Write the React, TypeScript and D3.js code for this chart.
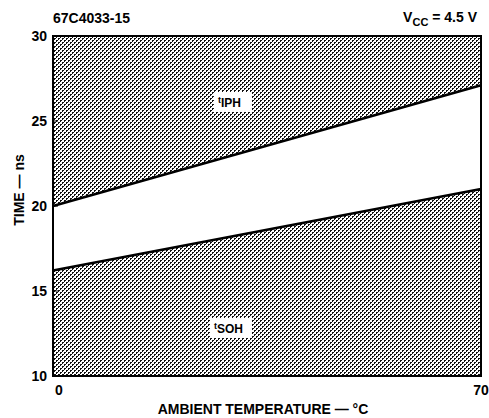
import React from "react";
import * as d3 from "d3";

const temps = [0, 70];
const tIPH = [20, 27.1];
const tSOH = [16.2, 21.0];
const yTicks = [10, 15, 20, 25, 30];
const xTicks = [0, 70];

const W = 489;
const H = 418;
const M = { left: 53, right: 481, top: 36, bottom: 376 };
const FONT = "'Liberation Sans', Arial, Helvetica, sans-serif";

export default function App() {
  const x = d3.scaleLinear().domain([0, 70]).range([M.left, M.right]);
  const y = d3.scaleLinear().domain([10, 30]).range([M.bottom, M.top]);

  const upper = temps.map((t, i) => ({ t, v: tIPH[i] }));
  const lower = temps.map((t, i) => ({ t, v: tSOH[i] }));

  const areaTop = d3
    .area<{ t: number; v: number }>()
    .x((d) => x(d.t))
    .y0(() => y(30))
    .y1((d) => y(d.v));
  const areaBottom = d3
    .area<{ t: number; v: number }>()
    .x((d) => x(d.t))
    .y0(() => y(10))
    .y1((d) => y(d.v));
  const line = d3
    .line<{ t: number; v: number }>()
    .x((d) => x(d.t))
    .y((d) => y(d.v));

  return (
    <svg
      width={W}
      height={H}
      style={{ position: "absolute", left: 0, top: 0, background: "#fff" }}
      fontFamily={FONT}
    >
      <defs>
        <pattern id="hatch" width={4} height={4} patternUnits="userSpaceOnUse">
          <rect width={4} height={4} fill="#fff" />
          <rect x={0} y={0} width={2} height={1} fill="#111" />
          <rect x={0} y={1} width={1} height={1} fill="#111" />
          <rect x={2} y={2} width={2} height={1} fill="#111" />
          <rect x={2} y={3} width={1} height={1} fill="#111" />
        </pattern>
      </defs>

      <path d={areaTop(upper) || ""} fill="url(#hatch)" />
      <path d={areaBottom(lower) || ""} fill="url(#hatch)" />

      <path d={line(upper) || ""} fill="none" stroke="#000" strokeWidth={2.5} />
      <path d={line(lower) || ""} fill="none" stroke="#000" strokeWidth={2.5} />

      <rect
        x={M.left}
        y={M.top}
        width={M.right - M.left}
        height={M.bottom - M.top}
        fill="none"
        stroke="#000"
        strokeWidth={2}
      />

      {yTicks.map((t) => (
        <g key={t}>
          {t !== 10 && t !== 30 && (
            <line x1={M.left} x2={M.left + 5} y1={y(t)} y2={y(t)} stroke="#000" strokeWidth={1} />
          )}
          <text
            x={M.left - 6}
            y={y(t)}
            dy="0.35em"
            textAnchor="end"
            fontSize={14}
            fontWeight="bold"
          >
            {t}
          </text>
        </g>
      ))}

      {xTicks.map((t, i) => (
        <text
          key={t}
          x={x(t) + (i === 0 ? 6 : 0)}
          y={M.bottom + 14}
          dy="0.35em"
          textAnchor="middle"
          fontSize={14}
          fontWeight="bold"
        >
          {t}
        </text>
      ))}

      <rect x={214} y={92} width={38} height={20} fill="#fff" />
      <text x={218} y={107} fontSize={12} fontWeight="bold">
        <tspan fontSize={9} dy={-4}>t</tspan>
        <tspan dy={4}>IPH</tspan>
      </text>
      <rect x={210} y={318} width={42} height={20} fill="#fff" />
      <text x={214} y={333} fontSize={12} fontWeight="bold">
        <tspan fontSize={9} dy={-4}>t</tspan>
        <tspan dy={4}>SOH</tspan>
      </text>

      <text x={53} y={23} fontSize={14} fontWeight="bold">
        67C4033-15
      </text>
      <text x={477} y={22} fontSize={14} fontWeight="bold" textAnchor="end">
        V<tspan fontSize={11} dy={4}>CC</tspan>
        <tspan dy={-4}> = 4.5 V</tspan>
      </text>

      <text
        transform={`translate(19, ${(M.top + M.bottom) / 2 - 16}) rotate(-90)`}
        textAnchor="middle"
        dy="0.35em"
        fontSize={14}
        fontWeight="bold"
      >
        TIME — ns
      </text>
      <text x={263} y={409} dy="0.35em" textAnchor="middle" fontSize={14} fontWeight="bold">
        AMBIENT TEMPERATURE — °C
      </text>
    </svg>
  );
}
